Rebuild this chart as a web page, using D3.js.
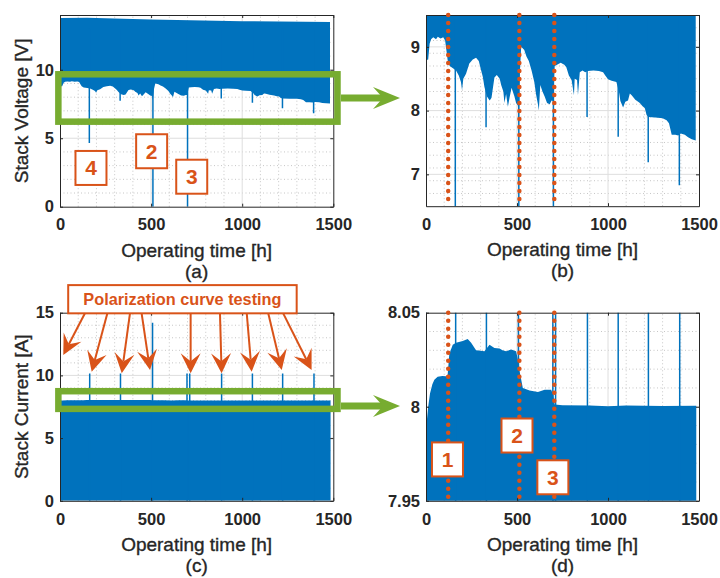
<!DOCTYPE html>
<html>
<head>
<meta charset="utf-8">
<script src="https://cdn.jsdelivr.net/npm/d3@7"></script>
<style>
  body { margin: 0; background: #fff; }
  svg text { font-family: Arial, "Liberation Sans", sans-serif; fill: #262626; }
  .lbl { stroke: #262626; stroke-width: 0.35; }
</style>
</head>
<body>
<svg id="fig" width="720" height="578"></svg>
<script>
// ---- data ----
const timeTicks = [0, 500, 1000, 1500];

// stack voltage: lower edge of the dense band
const voltLowHours = [0, 12, 20, 28, 40, 55, 65, 80, 95, 105, 112, 119, 130, 150, 165, 180, 192, 198, 205, 220,
  238, 257, 275, 290, 303, 312, 321, 335, 350, 360, 376, 389, 405, 413, 425, 431, 440, 450, 459, 470,
  486, 495, 505, 510, 516, 523, 540, 552, 565, 580, 595, 605, 615, 620, 628, 640, 652, 665, 680, 690,
  698, 707, 720, 740, 760, 771, 785, 800, 813, 817, 830, 835, 845, 860, 875, 890, 920, 950, 973, 985,
  1000, 1020, 1046, 1060, 1068, 1083, 1095, 1110, 1120, 1130, 1150, 1175, 1190, 1202, 1212, 1222, 1260, 1300, 1322, 1335,
  1350, 1370, 1386, 1400, 1422, 1440, 1460, 1482];
const voltLow = [8.79, 8.80, 9.05, 9.12, 9.15, 9.12, 9.16, 9.13, 9.15, 9.10, 8.95, 8.79, 8.70, 8.66, 8.63, 8.55, 8.45, 8.32, 8.50, 8.58,
  8.74, 8.80, 8.83, 8.78, 8.63, 8.53, 8.37, 8.22, 8.16, 8.20, 8.52, 8.56, 8.50, 8.40, 8.30, 8.12, 8.26, 8.06, 8.20, 8.36,
  8.22, 8.12, 8.08, 7.80, 8.60, 9.00, 8.95, 8.85, 8.78, 8.63, 8.45, 8.25, 8.10, 8.00, 8.40, 8.30, 8.22, 8.12, 8.10, 8.16,
  8.15, 8.70, 8.72, 8.75, 8.72, 8.68, 8.55, 8.48, 8.24, 8.50, 8.48, 8.24, 8.60, 8.63, 8.60, 8.62, 8.63, 8.62, 8.60, 8.55,
  8.49, 8.47, 8.45, 8.30, 8.15, 8.05, 8.14, 8.16, 8.27, 8.24, 8.17, 8.12, 8.07, 8.04, 7.93, 7.90, 7.89, 7.88, 7.85, 7.80,
  7.62, 7.62, 7.61, 7.64, 7.62, 7.58, 7.55, 7.53];
// stack voltage: upper edge of the band
const voltTopHours = [0, 150, 500, 1000, 1482];
const voltTop = [13.78, 13.80, 13.68, 13.55, 13.48];
// downward voltage spikes
const voltSpikeHours = [0, 161, 330, 510, 700, 885, 1056, 1221, 1392];
const voltSpikeMin = [0, 4.65, 7.74, 0, 0, 7.9, 7.59, 7.19, 6.83];

// stack current: upper edge of the band (band reaches down to 0)
const currHours = [0, 5, 12, 22, 35, 46, 64, 90, 110, 119, 128, 147, 165, 202, 229, 248, 275, 300, 321, 349,
  376, 404, 420, 440, 468, 495, 505, 514, 532, 569, 615, 652, 688, 700, 707, 750, 900, 1000, 1100, 1300, 1485];
const currTop = [7.990, 7.993, 8.000, 8.007, 8.012, 8.0144, 8.0160, 8.0163, 8.0162, 8.017, 8.028, 8.033, 8.034, 8.035, 8.036, 8.034, 8.030, 8.0298, 8.0295, 8.033,
  8.0313, 8.031, 8.030, 8.0295, 8.0304, 8.0295, 8.025, 8.019, 8.010, 8.0086, 8.0079, 8.0091, 8.009, 8.006, 8.0012, 8.0008, 8.0007, 8.0002, 8.0006, 8.0004, 8.0005];
// polarization curve tests (current spikes)
const polHours = [0, 163, 332, 508, 697, 712, 887, 1056, 1222, 1394];
const polPeak = [11.9, 10.15, 10.15, 14.2, 10.15, 10.15, 10.15, 10.15, 10.15, 10.15];

// events marked with dotted lines
const eventHours = [122, 513, 705];

// ---- figure ----
const BLUE = "#0072BD", ORANGE = "#D95319", GREEN = "#77AC30", AX = "#262626";
const svg = d3.select("#fig");
const defs = svg.append("defs");

const panels = {
  a: { xr: [60, 333.3], yr: [206.7, 15], dom: [0, 14], ticks: [0, 5, 10], minor: 1 },
  b: { xr: [426, 699], yr: [206.2, 15], dom: [6.5, 9.5], ticks: [7, 8, 9], minor: 0.2 },
  c: { xr: [60, 333.3], yr: [500.8, 312.7], dom: [0, 15], ticks: [0, 5, 10, 15], minor: 1 },
  d: { xr: [426, 699], yr: [500.8, 312.7], dom: [7.95, 8.05], ticks: [7.95, 8, 8.05], minor: 0.01 }
};

function drawPanel(id, drawData) {
  const p = panels[id];
  const x = d3.scaleLinear().domain([0, 1500]).range(p.xr);
  const y = d3.scaleLinear().domain(p.dom).range(p.yr);
  const g = svg.append("g");

  defs.append("clipPath").attr("id", "clip-" + id).append("rect")
    .attr("x", p.xr[0]).attr("y", p.yr[1])
    .attr("width", p.xr[1] - p.xr[0]).attr("height", p.yr[0] - p.yr[1]);

  // minor grid
  const n = Math.round((p.dom[1] - p.dom[0]) / p.minor);
  const yMinor = d3.range(1, n).map(i => +(p.dom[0] + i * p.minor).toFixed(4))
    .filter(v => !p.ticks.includes(v));
  const xMinor = d3.range(100, 1500, 100).filter(v => !timeTicks.includes(v));
  const grid = g.append("g").attr("stroke", "#c6c6c6").attr("stroke-width", 1).attr("stroke-dasharray", "1,2.5");
  grid.selectAll(".mx").data(xMinor).join("line")
    .attr("x1", d => x(d)).attr("x2", d => x(d)).attr("y1", p.yr[0]).attr("y2", p.yr[1]);
  grid.selectAll(".my").data(yMinor).join("line")
    .attr("y1", d => y(d)).attr("y2", d => y(d)).attr("x1", p.xr[0]).attr("x2", p.xr[1]);

  // major grid
  const major = g.append("g").attr("stroke", "#dedede").attr("stroke-width", 1);
  major.selectAll(".gx").data(timeTicks.slice(1, -1)).join("line")
    .attr("x1", d => x(d)).attr("x2", d => x(d)).attr("y1", p.yr[0]).attr("y2", p.yr[1]);
  major.selectAll(".gy").data(p.ticks.filter(v => v !== p.dom[0] && v !== p.dom[1])).join("line")
    .attr("y1", d => y(d)).attr("y2", d => y(d)).attr("x1", p.xr[0]).attr("x2", p.xr[1]);

  const gd = g.append("g").attr("clip-path", `url(#clip-${id})`);
  drawData(gd, x, y);

  const style = sel => {
    sel.select(".domain").attr("stroke", AX);
    sel.selectAll(".tick line").attr("stroke", AX);
    sel.selectAll("text").attr("font-family", "Arial, 'Liberation Sans', sans-serif")
      .attr("font-size", 16.5).attr("font-weight", "bold").attr("fill", AX);
  };
  g.append("g").attr("transform", `translate(0,${p.yr[0]})`)
    .call(d3.axisBottom(x).tickValues(timeTicks).tickSize(-3).tickSizeOuter(0).tickPadding(12)
      .tickFormat(d => String(d))).call(style);
  g.append("g").attr("transform", `translate(0,${p.yr[1]})`)
    .call(d3.axisTop(x).tickValues(timeTicks).tickSize(-3).tickSizeOuter(0).tickFormat("")).call(style);
  g.append("g").attr("transform", `translate(${p.xr[0]},0)`)
    .call(d3.axisLeft(y).tickValues(p.ticks).tickSize(-3).tickSizeOuter(0).tickPadding(6).tickFormat(d => String(d))).call(style);
  g.append("g").attr("transform", `translate(${p.xr[1]},0)`)
    .call(d3.axisRight(y).tickValues(p.ticks).tickSize(-3).tickSizeOuter(0).tickFormat("")).call(style);

  const cx = (p.xr[0] + p.xr[1]) / 2;
  svg.append("text").attr("class", "lbl").attr("x", cx).attr("y", p.yr[0] + 50).attr("text-anchor", "middle")
    .attr("font-size", 19).text("Operating time [h]");
  svg.append("text").attr("class", "lbl").attr("x", cx).attr("y", p.yr[0] + 71).attr("text-anchor", "middle")
    .attr("font-size", 19).text(`(${id})`);
  return { x, y, p };
}

function drawVoltage(g, x, y) {
  const pts = voltLowHours.map((h, i) => [h, voltLow[i]])
    .concat(voltTopHours.map((h, i) => [h, voltTop[i]]).reverse());
  const line = d3.line().x(d => x(d[0])).y(d => y(d[1]));
  g.append("path").attr("d", line(pts) + "Z").attr("fill", BLUE);
  g.selectAll(".spk").data(voltSpikeHours).join("line")
    .attr("x1", d => x(d)).attr("x2", d => x(d))
    .attr("y1", (d, i) => y(voltSpikeMin[i])).attr("y2", y(13))
    .attr("stroke", BLUE).attr("stroke-width", 1.5);
}

function drawCurrent(g, x, y) {
  const area = d3.area().x(d => x(d[0])).y0(y(0)).y1(d => y(d[1]));
  g.append("path").datum(currHours.map((h, i) => [h, currTop[i]])).attr("d", area).attr("fill", BLUE);
  g.selectAll(".spk").data(polHours).join("line")
    .attr("x1", d => x(d)).attr("x2", d => x(d))
    .attr("y1", y(0)).attr("y2", (d, i) => y(polPeak[i]))
    .attr("stroke", BLUE).attr("stroke-width", 1.5);
}

function eventLines(P) {
  svg.append("g").selectAll("line").data(eventHours).join("line")
    .attr("x1", d => P.x(d)).attr("x2", d => P.x(d))
    .attr("y1", P.p.yr[1]).attr("y2", P.p.yr[0])
    .attr("stroke", ORANGE).attr("stroke-width", 4.5)
    .attr("stroke-dasharray", "0,8").attr("stroke-linecap", "round");
}

function numberBox(P, h, v, label) {
  const cx = P.x(h), cy = P.y(v);
  svg.append("rect").attr("x", cx - 15.5).attr("y", cy - 17).attr("width", 31).attr("height", 34)
    .attr("fill", "#fff").attr("stroke", ORANGE).attr("stroke-width", 2);
  svg.append("text").attr("x", cx).attr("y", cy + 7.5).attr("text-anchor", "middle")
    .attr("font-size", 21).attr("font-weight", "bold").style("fill", ORANGE).text(label);
}

function arrow(x1, y1, x2, y2, color, width, len, half, notch) {
  const dx = x2 - x1, dy = y2 - y1, L = Math.hypot(dx, dy);
  const ux = dx / L, uy = dy / L, nx = -uy, ny = ux;
  const bx = x2 - ux * len, by = y2 - uy * len;
  const mx = x2 - ux * notch, my = y2 - uy * notch;
  svg.append("line").attr("x1", x1).attr("y1", y1).attr("x2", mx).attr("y2", my)
    .attr("stroke", color).attr("stroke-width", width);
  svg.append("path").attr("fill", color)
    .attr("d", `M${x2},${y2}L${bx + nx * half},${by + ny * half}L${mx},${my}L${bx - nx * half},${by - ny * half}Z`);
}

const A = drawPanel("a", drawVoltage);
const B = drawPanel("b", drawVoltage);
const C = drawPanel("c", drawCurrent);
const D = drawPanel("d", drawCurrent);

svg.append("text").attr("class", "lbl").attr("transform", `translate(27.5,${(A.p.yr[0] + A.p.yr[1]) / 2}) rotate(-90)`)
  .attr("text-anchor", "middle").attr("font-size", 19).text("Stack Voltage [V]");
svg.append("text").attr("class", "lbl").attr("transform", `translate(27.5,${(C.p.yr[0] + C.p.yr[1]) / 2}) rotate(-90)`)
  .attr("text-anchor", "middle").attr("font-size", 19).text("Stack Current [A]");

eventLines(B);
eventLines(D);

numberBox(A, 170, 2.83, "4");
numberBox(A, 503, 4.05, "2");
numberBox(A, 723, 2.19, "3");
numberBox(D, 118, 7.972, "1");
numberBox(D, 500, 7.9847, "2");
numberBox(D, 697, 7.9625, "3");

// zoom boxes and green arrows
function zoomBox(P, h0, h1, v0, v1) {
  svg.append("rect").attr("x", P.x(h0)).attr("y", P.y(v1))
    .attr("width", P.x(h1) - P.x(h0)).attr("height", P.y(v0) - P.y(v1))
    .attr("fill", "none").attr("stroke", GREEN).attr("stroke-width", 6.5);
}
zoomBox(A, -9, 1523, 6.21, 9.67);
zoomBox(C, -9, 1523, 7.33, 8.74);
arrow(341, 98, 400, 98, GREEN, 7, 27, 11, 17);
arrow(341, 406, 400, 406, GREEN, 7, 27, 11, 17);

// polarization testing label and arrows
const polBox = { h0: 45, h1: 1299, v0: 14.95, v1: 17.2 };
svg.append("rect").attr("x", C.x(polBox.h0)).attr("y", C.y(polBox.v1))
  .attr("width", C.x(polBox.h1) - C.x(polBox.h0)).attr("height", C.y(polBox.v0) - C.y(polBox.v1))
  .attr("fill", "#fff").attr("stroke", ORANGE).attr("stroke-width", 2);
svg.append("text").attr("x", C.x((polBox.h0 + polBox.h1) / 2)).attr("y", C.y(polBox.v1) + 20)
  .attr("text-anchor", "middle").attr("font-size", 16.3).attr("font-weight", "bold")
  .style("fill", ORANGE).text("Polarization curve testing");

const polArrowFrom = [137, 260, 384, 448, 717, 878, 1025, 1143, 1225];
const polArrowTo = [[18, 11.63], [174, 10.30], [339, 10.17], [494, 10.43], [717, 10.17], [887, 10.17], [1052, 10.30], [1217, 10.43], [1381, 10.43]];
polArrowFrom.forEach((h, i) => {
  arrow(C.x(h), C.y(polBox.v0), C.x(polArrowTo[i][0]), C.y(polArrowTo[i][1]), ORANGE, 2, 20, 10, 12);
});
</script>
</body>
</html>
